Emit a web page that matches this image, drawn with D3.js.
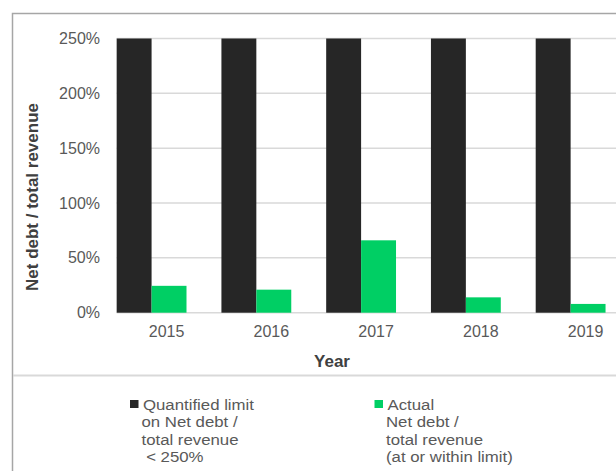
<!DOCTYPE html>
<html>
<head>
<meta charset="utf-8">
<script src="https://cdn.jsdelivr.net/npm/d3@7"></script>
<style>
  html, body { margin: 0; padding: 0; background: #fff; }
  svg { display: block; font-family: "Liberation Sans", Arial, sans-serif; }
</style>
</head>
<body>
<svg id="chart" width="616" height="471"></svg>
<script>
// Net debt / total revenue against the quantified limit, 2015–2019
const years = ["2015", "2016", "2017", "2018", "2019"];
const limitValues = [250, 250, 250, 250, 250];
const actualValues = [24.5, 21, 66, 14, 8];
const yTicks = [0, 50, 100, 150, 200, 250];
const seriesKeys = ["limit", "actual"];
const seriesColors = ["#262626", "#00cf64"];
const legendLabels = [
  ["Quantified limit", "on Net debt /", "total revenue", " < 250%"],
  ["Actual", "Net debt /", "total revenue", "(at or within limit)"]
];

const W = 616, H = 471;
const svg = d3.select("#chart");
const textColor = "#595959";

// outer frame (top and left edges visible)
svg.append("path")
  .attr("d", `M12.5,${H} V13.5 H${W}`)
  .attr("fill", "none")
  .attr("stroke", "#a6a6a6")
  .attr("stroke-width", 1.5);

const y = d3.scaleLinear().domain([0, 250]).range([312.7, 38.5]);
const x = d3.scaleBand().domain(years).range([99.2, 623])
  .paddingInner(1 / 3).paddingOuter(1 / 6);
const xs = d3.scaleBand().domain(seriesKeys).range([0, x.bandwidth()]);
const color = d3.scaleOrdinal().domain(seriesKeys).range(seriesColors);

const gridLeft = x(years[0]);

// horizontal gridlines
svg.append("g")
  .selectAll("line")
  .data(yTicks)
  .join("line")
  .attr("x1", gridLeft).attr("x2", W)
  .attr("y1", d => y(d)).attr("y2", d => y(d))
  .attr("stroke", "#d9d9d9")
  .attr("stroke-width", 1.5);

// y axis tick labels
const yAxis = d3.axisLeft(y).tickValues(yTicks).tickFormat(d => d + "%").tickSize(0).tickPadding(0);
const gy = svg.append("g").attr("transform", "translate(100,0)").call(yAxis);
gy.select(".domain").remove();
gy.selectAll("text")
  .attr("fill", textColor)
  .attr("font-size", 16)
  .attr("font-family", "Liberation Sans, Arial, sans-serif");

// bars
const rows = years.map((yr, i) => ({ year: yr, limit: limitValues[i], actual: actualValues[i] }));
svg.append("g")
  .selectAll("g")
  .data(rows)
  .join("g")
  .attr("transform", d => `translate(${x(d.year)},0)`)
  .selectAll("rect")
  .data(d => seriesKeys.map(k => ({ key: k, value: d[k] })))
  .join("rect")
  .attr("x", d => xs(d.key))
  .attr("width", xs.bandwidth())
  .attr("y", d => y(d.value))
  .attr("height", d => y(0) - y(d.value))
  .attr("fill", d => color(d.key));

// x axis tick labels
const xAxis = d3.axisBottom(x).tickSize(0).tickPadding(0);
const gx = svg.append("g").attr("transform", `translate(15,${y(0)})`).call(xAxis);
gx.select(".domain").remove();
gx.selectAll("text")
  .attr("fill", textColor)
  .attr("font-size", 16)
  .attr("dy", "1.55em")
  .attr("font-family", "Liberation Sans, Arial, sans-serif");

// axis titles
svg.append("text")
  .attr("x", 332).attr("y", 367)
  .attr("text-anchor", "middle")
  .attr("font-size", 17).attr("font-weight", "bold")
  .attr("fill", "#404040")
  .text("Year");

svg.append("text")
  .attr("transform", "translate(38,197) rotate(-90)")
  .attr("text-anchor", "middle")
  .attr("font-size", 17).attr("font-weight", "bold")
  .attr("fill", "#404040")
  .text("Net debt / total revenue");

// separator above the legend
svg.append("line")
  .attr("x1", 13).attr("x2", W)
  .attr("y1", 375.5).attr("y2", 375.5)
  .attr("stroke", "#d9d9d9").attr("stroke-width", 2);

// legend: swatch plus a four-line label, text slightly widened
const legendX = [130, 374.5];
const legend = svg.append("g")
  .selectAll("g")
  .data(seriesKeys)
  .join("g")
  .attr("transform", (d, i) => `translate(${legendX[i]},400)`);

legend.append("rect")
  .attr("width", 8.5).attr("height", 8)
  .attr("fill", d => color(d));

legend.each(function (d, i) {
  const t = d3.select(this).append("text")
    .attr("transform", "scale(1.12,1)")
    .attr("fill", textColor)
    .attr("font-size", 15)
    .attr("font-family", "Liberation Sans, Arial, sans-serif");
  t.selectAll("tspan")
    .data(legendLabels[i])
    .join("tspan")
    .attr("x", (s, j) => (j === 0 ? 13 : 11.5) / 1.12)
    .attr("y", (s, j) => 10 + j * 17.3)
    .attr("xml:space", "preserve")
    .style("white-space", "pre")
    .text(s => s);
});
</script>
</body>
</html>
